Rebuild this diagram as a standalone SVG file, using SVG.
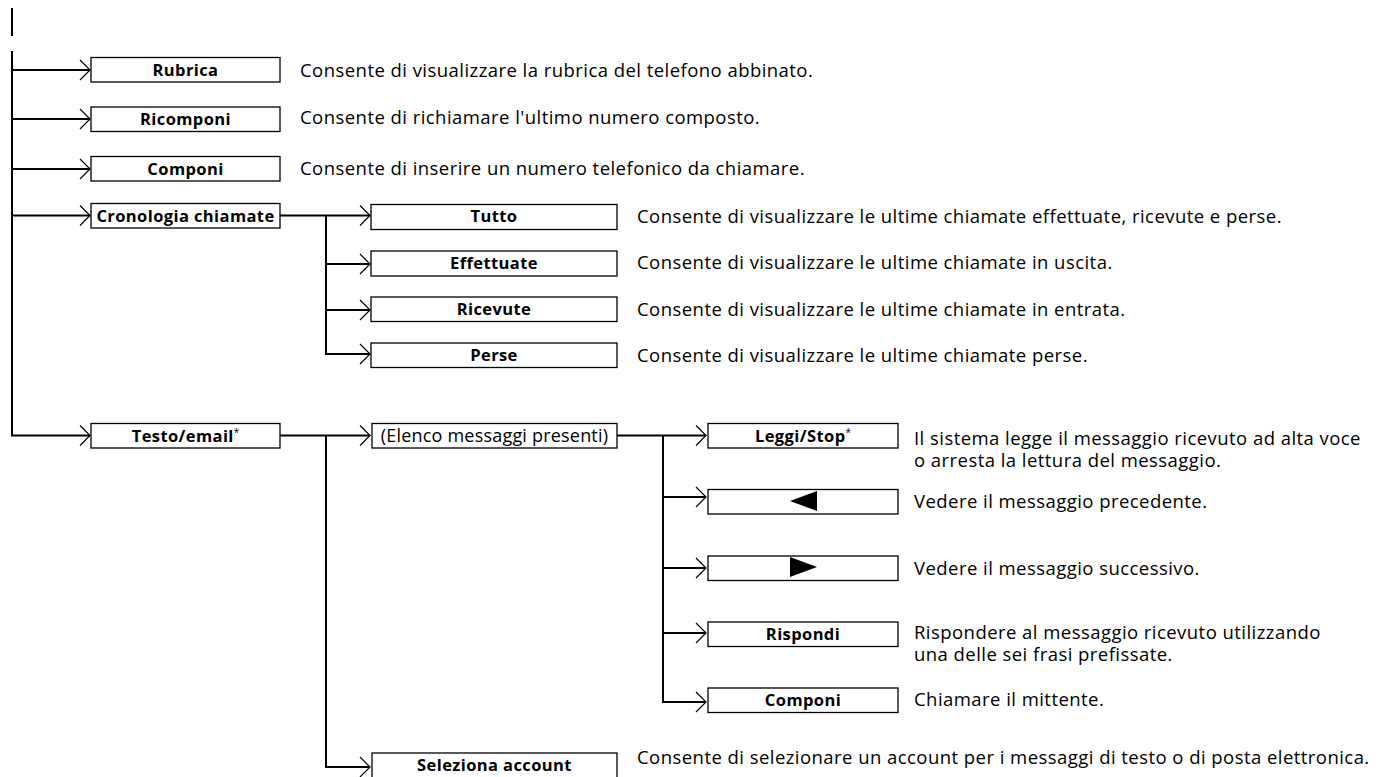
<svg xmlns="http://www.w3.org/2000/svg" width="1376" height="777" viewBox="0 0 1376 777">
<style>
.c{fill:none;stroke:#000;stroke-width:2}
.b{fill:#fff;stroke:#000;stroke-width:1.3}
.l{font-family:"Open Sans","DejaVu Sans",sans-serif;font-weight:bold;font-size:16.5px;letter-spacing:0.4px;fill:#000;text-anchor:middle}
.d{font-family:"Open Sans","DejaVu Sans",sans-serif;font-size:18.5px;letter-spacing:0.45px;fill:#000}
.e{font-family:"Open Sans","DejaVu Sans",sans-serif;font-size:18px;letter-spacing:0.2px;fill:#000;text-anchor:middle}
.s{font-size:10px;font-weight:normal;letter-spacing:0}
</style>
<defs>
<marker id="ch" markerUnits="userSpaceOnUse" markerWidth="24" markerHeight="24" viewBox="-12 -12 24 24" refX="0" refY="0" orient="auto" overflow="visible">
<path d="M-10,-10 L0,0 L-10,10" fill="none" stroke="#000" stroke-width="1.2"/>
</marker>
</defs>
<rect width="1376" height="777" fill="#fff"/>
<g id="connectors">
<line class="c" x1="12" y1="8" x2="12" y2="36"/>
<path class="c" d="M12,51 V435.5 H90" marker-end="url(#ch)"/>
<path class="c" d="M12,70 H90" marker-end="url(#ch)"/>
<path class="c" d="M12,119 H90" marker-end="url(#ch)"/>
<path class="c" d="M12,169 H90" marker-end="url(#ch)"/>
<path class="c" d="M12,215.5 H90" marker-end="url(#ch)"/>
<path class="c" d="M280,215.5 H370" marker-end="url(#ch)"/>
<path class="c" d="M326,215.5 V354 H370" marker-end="url(#ch)"/>
<path class="c" d="M326,264 H370" marker-end="url(#ch)"/>
<path class="c" d="M326,310 H370" marker-end="url(#ch)"/>
<path class="c" d="M280,435.5 H370" marker-end="url(#ch)"/>
<path class="c" d="M326,435.5 V767 H370" marker-end="url(#ch)"/>
<path class="c" d="M617,435.5 H706" marker-end="url(#ch)"/>
<path class="c" d="M663,435.5 V702 H706" marker-end="url(#ch)"/>
<path class="c" d="M663,497 H706" marker-end="url(#ch)"/>
<path class="c" d="M663,568 H706" marker-end="url(#ch)"/>
<path class="c" d="M663,633 H706" marker-end="url(#ch)"/>
</g>
<g id="rubrica"><rect class="b" x="91" y="57.5" width="189" height="24.5"/><text class="l" x="185.5" y="75.5">Rubrica</text>
<text class="d" x="300" y="77">Consente di visualizzare la rubrica del telefono abbinato.</text></g>
<g id="ricomponi"><rect class="b" x="91" y="107" width="189" height="24.5"/><text class="l" x="185.5" y="125">Ricomponi</text>
<text class="d" x="300" y="124">Consente di richiamare l'ultimo numero composto.</text></g>
<g id="componi"><rect class="b" x="91" y="156.5" width="189" height="24.5"/><text class="l" x="185.5" y="174.5">Componi</text>
<text class="d" x="300" y="175">Consente di inserire un numero telefonico da chiamare.</text></g>
<g id="cronologia"><rect class="b" x="91" y="203.5" width="189" height="24.5"/><text class="l" x="185.5" y="221.5">Cronologia chiamate</text></g>
<g id="tutto"><rect class="b" x="371" y="204.5" width="246" height="25"/><text class="l" x="494" y="222">Tutto</text>
<text class="d" x="637" y="222.5">Consente di visualizzare le ultime chiamate effettuate, ricevute e perse.</text></g>
<g id="effettuate"><rect class="b" x="371" y="251" width="246" height="25"/><text class="l" x="494" y="269">Effettuate</text>
<text class="d" x="637" y="268.5">Consente di visualizzare le ultime chiamate in uscita.</text></g>
<g id="ricevute"><rect class="b" x="371" y="297" width="246" height="24.5"/><text class="l" x="494" y="315">Ricevute</text>
<text class="d" x="637" y="315.5">Consente di visualizzare le ultime chiamate in entrata.</text></g>
<g id="perse"><rect class="b" x="371" y="343" width="246" height="24.5"/><text class="l" x="494" y="360.5">Perse</text>
<text class="d" x="637" y="361.5">Consente di visualizzare le ultime chiamate perse.</text></g>
<g id="testo"><rect class="b" x="91" y="423.5" width="189" height="24.5"/><text class="l" x="185.5" y="441.5">Testo/email<tspan class="s" dy="-6">*</tspan></text></g>
<g id="elenco"><rect class="b" x="372" y="423.5" width="245" height="24.5"/><text class="e" x="494.5" y="442">(Elenco messaggi presenti)</text></g>
<g id="leggi"><rect class="b" x="708" y="423.5" width="190" height="24.5"/><text class="l" x="803" y="441.5">Leggi/Stop<tspan class="s" dy="-6">*</tspan></text>
<text class="d" x="914" y="445">Il sistema legge il messaggio ricevuto ad alta voce</text>
<text class="d" x="914" y="467">o arresta la lettura del messaggio.</text></g>
<g id="precedente"><rect class="b" x="708" y="489.5" width="190" height="24.5"/><polygon points="790,501 817,491 817,511" fill="#000"/>
<text class="d" x="914" y="507.5">Vedere il messaggio precedente.</text></g>
<g id="successivo"><rect class="b" x="708" y="556" width="190" height="24.5"/><polygon points="790,557 790,577 817,567" fill="#000"/>
<text class="d" x="914" y="574.5">Vedere il messaggio successivo.</text></g>
<g id="rispondi"><rect class="b" x="708" y="622" width="190" height="24.5"/><text class="l" x="803" y="639.5">Rispondi</text>
<text class="d" x="914" y="638.5">Rispondere al messaggio ricevuto utilizzando</text>
<text class="d" x="914" y="661">una delle sei frasi prefissate.</text></g>
<g id="componi2"><rect class="b" x="708" y="688" width="190" height="24.5"/><text class="l" x="803" y="706">Componi</text>
<text class="d" x="914" y="705.5">Chiamare il mittente.</text></g>
<g id="seleziona"><rect class="b" x="372" y="753" width="245" height="26"/><text class="l" x="494.5" y="771">Seleziona account</text>
<text class="d" x="637" y="764">Consente di selezionare un account per i messaggi di testo o di posta elettronica.</text></g>
</svg>
